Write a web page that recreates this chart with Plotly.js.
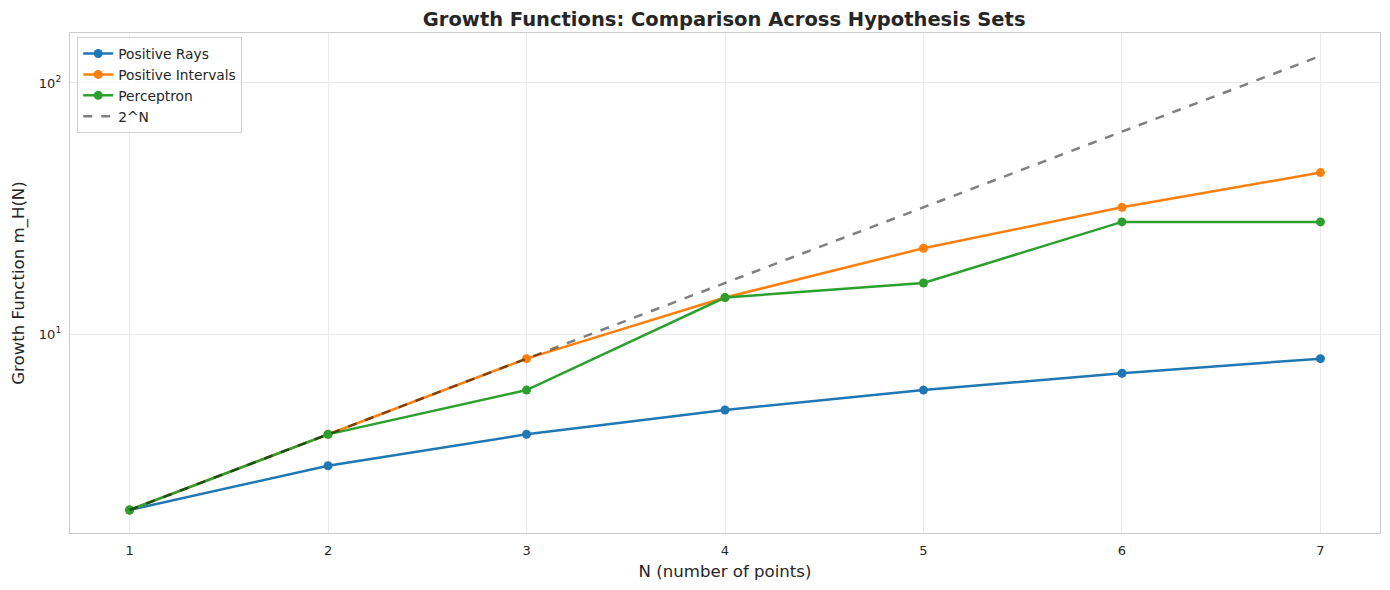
<!DOCTYPE html>
<html>
<head>
<meta charset="utf-8">
<script src="https://cdn.plot.ly/plotly-3.0.1.min.js"></script>
<style>
  html, body { margin: 0; padding: 0; background: #fff; }
  #chart { width: 1390px; height: 590px; }
</style>
</head>
<body>
<div id="chart"></div>
<script>
// values
const nPoints = [1, 2, 3, 4, 5, 6, 7];
const positiveRays = [2, 3, 4, 5, 6, 7, 8];
const positiveIntervals = [2, 4, 8, 14, 22, 32, 44];
const perceptron = [2, 4, 6, 14, 16, 28, 28];
const twoPowN = [2, 4, 8, 16, 32, 64, 128];

const font = 'DejaVu Sans, Liberation Sans, sans-serif';

function series(name, y, color) {
    return {
        x: nPoints,
        y: y,
        name: name,
        type: 'scatter',
        mode: 'lines+markers',
        line: {color: color, width: 2.5},
        marker: {color: color, size: 9}
    };
}

const traces = [
    series('Positive Rays', positiveRays, '#1f77b4'),
    series('Positive Intervals', positiveIntervals, '#ff7f0e'),
    series('Perceptron', perceptron, '#2ca02c'),
    {
        x: nPoints,
        y: twoPowN,
        name: '2^N',
        type: 'scatter',
        mode: 'lines',
        line: {color: 'rgba(0,0,0,0.5)', width: 2.5, dash: 'dash'}
    }
];

const layout = {
    width: 1390,
    height: 590,
    margin: {l: 70, r: 10, t: 33, b: 57},
    paper_bgcolor: '#fff',
    plot_bgcolor: '#fff',
    font: {family: font, color: '#262626'},
    title: {
        text: '<b>Growth Functions: Comparison Across Hypothesis Sets</b>',
        font: {family: font, size: 19.5, color: '#262626'},
        x: 0.521, xanchor: 'center',
        y: 0.968, yanchor: 'middle'
    },
    xaxis: {
        range: [0.7, 7.3],
        tickvals: nPoints,
        ticks: 'outside',
        ticklen: 5,
        tickcolor: 'rgba(0,0,0,0)',
        tickfont: {size: 13},
        showgrid: true,
        gridcolor: '#ebebeb',
        gridwidth: 1,
        zeroline: false,
        showline: true,
        linecolor: '#cccccc',
        linewidth: 1.2,
        mirror: true,
        title: {text: 'N (number of points)', font: {size: 16.6}, standoff: 8}
    },
    yaxis: {
        type: 'log',
        range: [Math.log10(1.62), Math.log10(158)],
        tickvals: [10, 100],
        ticktext: ['10<sup>1</sup>', '10<sup>2</sup>'],
        ticks: 'outside',
        ticklen: 5,
        tickcolor: 'rgba(0,0,0,0)',
        tickfont: {size: 13},
        showgrid: true,
        gridcolor: '#ebebeb',
        gridwidth: 1,
        zeroline: false,
        showline: true,
        linecolor: '#cccccc',
        linewidth: 1.2,
        mirror: true,
        title: {text: 'Growth Function m_H(N)', font: {size: 16.6}, standoff: 10}
    },
    legend: {
        x: 0.0055, y: 0.992,
        xanchor: 'left', yanchor: 'top',
        bgcolor: 'rgba(255,255,255,0.8)',
        bordercolor: '#d0d0d0',
        borderwidth: 1,
        font: {size: 13.8, color: '#262626'},
        tracegroupgap: 0
    },
    showlegend: true
};

Plotly.newPlot('chart', traces, layout, {displayModeBar: false, staticPlot: true});
</script>
</body>
</html>
